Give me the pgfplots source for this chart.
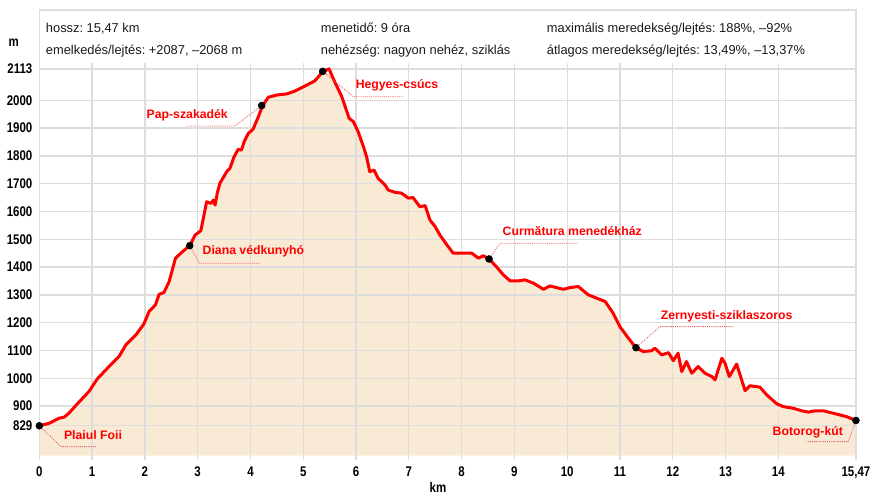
\documentclass[border=0pt]{standalone}
\usepackage{fontspec}
\setmainfont{Liberation Sans}
\newfontfamily\tickfont{Liberation Sans}[FakeStretch=0.82]
\usepackage{pgfplots}
\pgfplotsset{compat=1.18}
\usepackage{pgfplotstable}
\definecolor{fillc}{HTML}{F9EAD6}
\definecolor{gridc}{HTML}{DDDDDD}
\definecolor{lred}{HTML}{FF0000}
\definecolor{ldash}{HTML}{F06060}
\newcommand{\hdr}{\fontsize{9.65}{11}\selectfont}
\newcommand{\lbl}{\bfseries\fontsize{9.2}{11}\selectfont}
\newcommand{\tck}{\tickfont\bfseries\fontsize{10.5}{12}\selectfont}
\frenchspacing

\pgfplotstableread{
km m
0.00 829
0.19 838
0.37 856
0.47 860
0.56 874
0.75 914
0.94 952
1.10 998
1.32 1042
1.51 1078
1.64 1120
1.83 1156
1.98 1195
2.08 1240
2.20 1264
2.27 1302
2.36 1308
2.46 1348
2.58 1432
2.71 1455
2.85 1477
2.95 1515
3.06 1531
3.17 1635
3.25 1629
3.30 1641
3.33 1623
3.37 1665
3.42 1701
3.55 1743
3.61 1755
3.69 1797
3.77 1824
3.83 1821
3.88 1851
3.96 1881
4.05 1896
4.15 1941
4.23 1981
4.34 2011
4.50 2019
4.69 2023
4.84 2033
5.03 2051
5.22 2070
5.37 2103
5.49 2113
5.58 2073
5.73 2013
5.87 1935
5.95 1923
6.04 1887
6.14 1833
6.20 1797
6.26 1743
6.34 1749
6.42 1719
6.55 1695
6.61 1677
6.74 1669
6.86 1666
6.99 1648
7.08 1650
7.21 1617
7.31 1621
7.40 1569
7.50 1545
7.59 1515
7.72 1480
7.84 1450
8.00 1450
8.19 1450
8.32 1432
8.41 1441
8.52 1429
8.66 1401
8.79 1372
8.92 1350
9.07 1350
9.20 1354
9.36 1342
9.55 1320
9.67 1332
9.93 1320
10.05 1326
10.21 1330
10.40 1300
10.56 1288
10.72 1276
10.87 1234
11.00 1185
11.16 1144
11.30 1110
11.44 1096
11.60 1099
11.66 1108
11.79 1084
11.92 1092
12.01 1063
12.10 1090
12.17 1024
12.26 1060
12.36 1018
12.48 1042
12.61 1018
12.74 1006
12.80 994
12.93 1072
12.99 1054
13.07 1006
13.21 1051
13.37 955
13.46 973
13.65 968
13.78 940
13.97 908
14.09 898
14.28 892
14.44 883
14.57 878
14.66 882
14.85 883
15.04 874
15.29 862
15.47 848
}\profile

\pgfplotstableread{
km m
0.00 829
2.85 1477
4.213 1981
5.368 2104
8.519 1429
11.303 1110
15.47 848
}\places

\begin{document}
\begin{tikzpicture}
\begin{axis}[
  set layers,
  scale only axis,
  width=612.6pt, height=291.75pt,
  xmin=0, xmax=15.47, ymin=721.6, ymax=2120.9,
  clip=false,
  axis line style={draw=none},
  xtick={0,1,2,3,4,5,6,7,8,9,10,11,12,13,14,15.47},
  xticklabels={0,1,2,3,4,5,6,7,8,9,10,11,12,13,14,{15,47}},
  ytick={829,900,1000,1100,1200,1300,1400,1500,1600,1700,1800,1900,2000,2113},
  yticklabels={829,900,1000,1100,1200,1300,1400,1500,1600,1700,1800,1900,2000,2113},
  grid=major,
  major grid style={draw=gridc, line width=1pt},
  tick align=outside,
  major tick length=3pt,
  xtick style={draw=gridc, line width=1pt},
  ytick style={draw=none},
  xticklabel style={font=\tck, anchor=north, inner sep=0pt, yshift=-5.25pt},
  yticklabel style={font=\tck, anchor=east, inner sep=0pt, xshift=-2pt},
]
\addplot[fill=fillc, draw=none, on layer=axis background] table[x=km,y=m] {\profile}
  -- (axis cs:15.47,721.6) -- (axis cs:0,721.6) -- cycle;
\addplot[draw=lred, line width=2.25pt, line join=round] table[x=km,y=m] {\profile};
\addplot[only marks, mark=*, mark size=2.6pt, draw=black, fill=black] table[x=km,y=m] {\places};

% header frame
\draw[gridc, line width=1pt] (axis cs:0,2120.9) -- (axis cs:0,2324.8) -- (axis cs:15.47,2324.8) -- (axis cs:15.47,2120.9);

% header texts
\node[anchor=base west, font=\hdr, text=black!90, inner sep=0pt] at (axis cs:0.121,2244.6) {hossz: 15,47 km};
\node[anchor=base west, font=\hdr, text=black!90, inner sep=0pt] at (axis cs:0.121,2165.5) {emelkedés/lejtés: +2087, –2068 m};
\node[anchor=base west, font=\hdr, text=black!90, inner sep=0pt] at (axis cs:5.330,2244.6) {menetidő: 9 óra};
\node[anchor=base west, font=\hdr, text=black!90, inner sep=0pt] at (axis cs:5.330,2165.5) {nehézség: nagyon nehéz, sziklás};
\node[anchor=base west, font=\hdr, text=black!90, inner sep=0pt] at (axis cs:9.611,2244.6) {maximális meredekség/lejtés: 188\%, –92\%};
\node[anchor=base west, font=\hdr, text=black!90, inner sep=0pt] at (axis cs:9.611,2165.5) {átlagos meredekség/lejtés: 13,49\%, –13,37\%};

% axis unit labels
\node[anchor=base, font=\tck, inner sep=0pt] at (axis cs:-0.483,2192.8) {m};
\node[anchor=base, font=\tck, inner sep=0pt] at (axis cs:7.553,588) {km};

% leader lines
\tikzset{leader/.style={draw=ldash, line width=0.6pt, dash pattern=on 0.8pt off 0.8pt}}
\draw[leader] (axis cs:0,829) -- (axis cs:0.411,754) -- (axis cs:1.087,754);
\draw[leader] (axis cs:2.85,1477) -- (axis cs:3.031,1413.7) -- (axis cs:4.167,1413.7);
\draw[leader] (axis cs:4.213,1981) -- (axis cs:3.707,1907.6) -- (axis cs:2.792,1907.6);
\draw[leader] (axis cs:5.368,2104) -- (axis cs:5.948,2013) -- (axis cs:6.895,2013);
\draw[leader] (axis cs:8.519,1429) -- (axis cs:8.727,1485.6) -- (axis cs:10.21,1485.6);
\draw[leader] (axis cs:11.303,1110) -- (axis cs:11.758,1185.6) -- (axis cs:13.146,1185.6);
\draw[leader] (axis cs:15.47,848) -- (axis cs:15.325,772) -- (axis cs:14.537,772);

% place labels
\node[font=\lbl, text=lred, inner sep=0pt] at (axis cs:1.017,796.1) {Plaiul Foii};
\node[font=\lbl, text=lred, inner sep=0pt] at (axis cs:4.057,1455.4) {Diana védkunyhó};
\node[font=\lbl, text=lred, inner sep=0pt] at (axis cs:2.802,1947) {Pap-szakadék};
\node[font=\lbl, text=lred, inner sep=0pt] at (axis cs:6.776,2055) {Hegyes-csúcs};
\node[font=\lbl, text=lred, inner sep=0pt] at (axis cs:10.095,1529.9) {Curmătura menedékház};
\node[font=\lbl, text=lred, inner sep=0pt] at (axis cs:13.021,1224.1) {Zernyesti-sziklaszoros};
\node[font=\lbl, text=lred, inner sep=0pt] at (axis cs:14.558,804) {Botorog-kút};

\coordinate (bbll) at (axis cs:-0.7445,583.9);
\coordinate (bbur) at (axis cs:15.755,2360.8);
\end{axis}
\pgfresetboundingbox
\useasboundingbox (bbll) rectangle (bbur);
\end{tikzpicture}
\end{document}
